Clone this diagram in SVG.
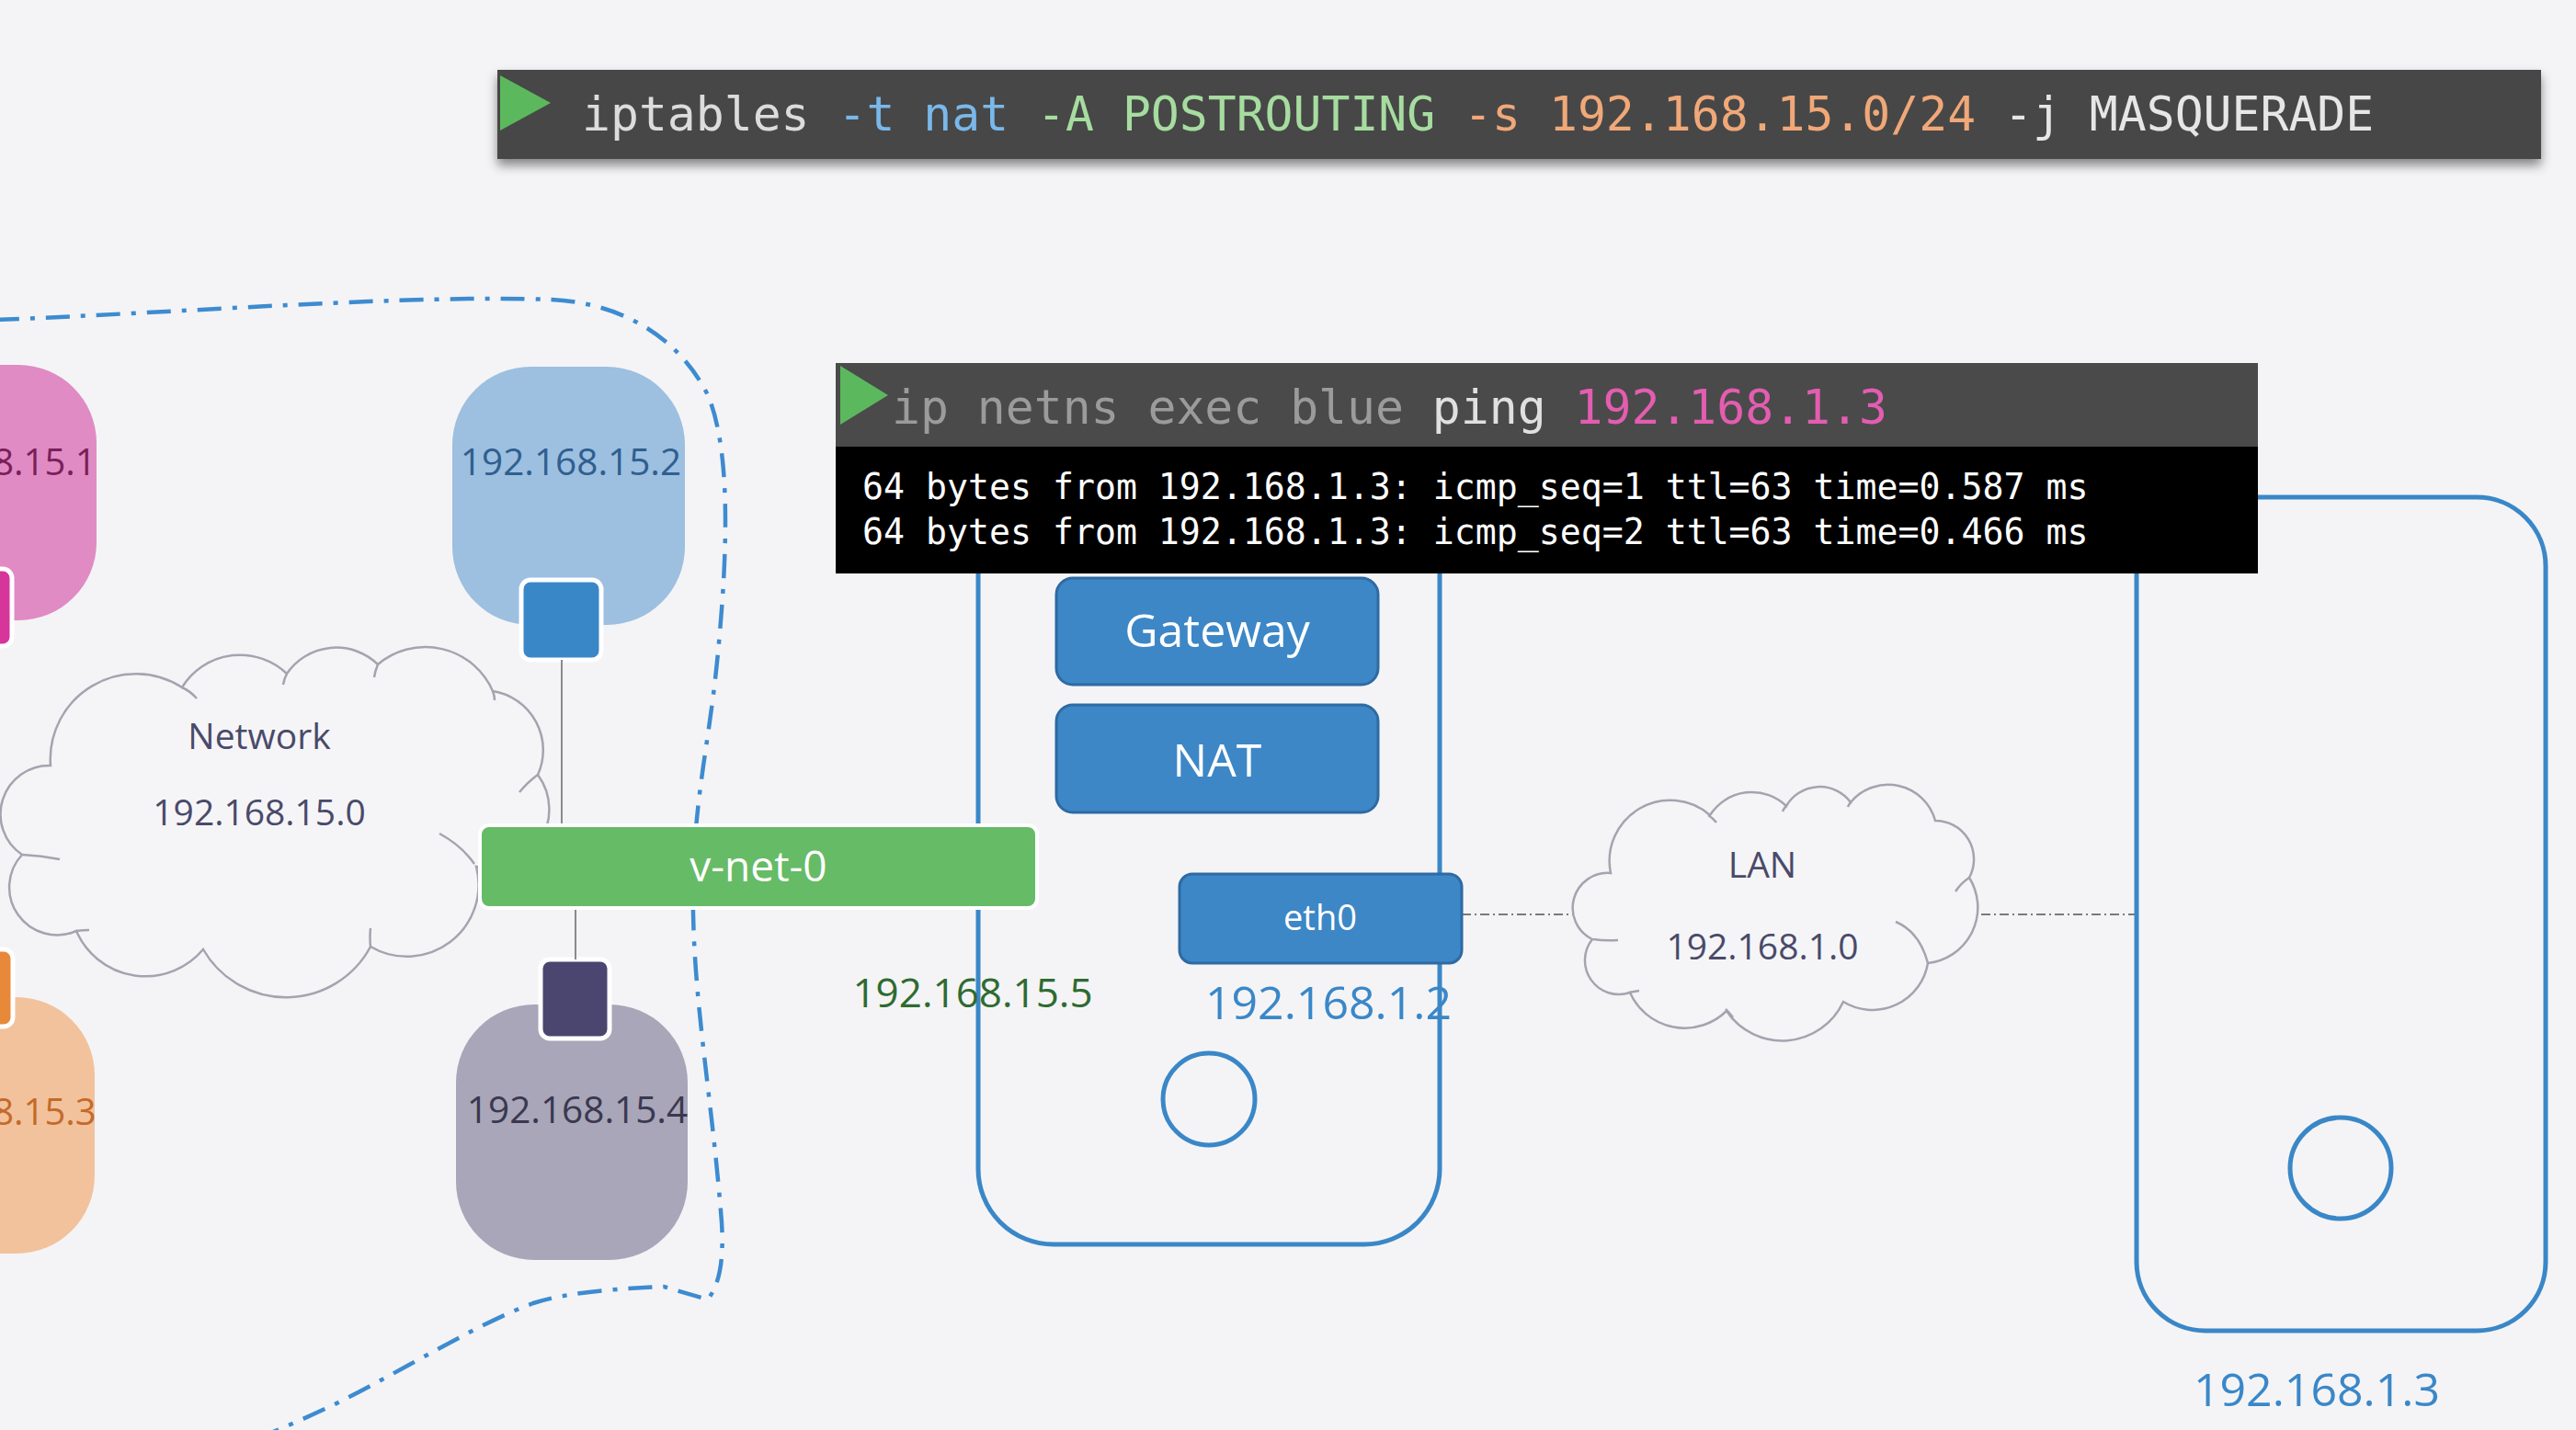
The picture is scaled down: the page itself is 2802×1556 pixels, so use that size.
<svg xmlns="http://www.w3.org/2000/svg" width="2802" height="1556" viewBox="0 0 2802 1556">
<defs>
<style>
.ui{font-family:"Open Sans","Noto Sans","DejaVu Sans",sans-serif}
.mono{font-family:"DejaVu Sans Mono","Liberation Mono",monospace}
.port{stroke:#ffffff;stroke-width:5}
.btn{fill:#3d87c6;stroke:#2e6aa3;stroke-width:3}
.host{fill:none;stroke:#3a87c8;stroke-width:5}
.cloud{fill:#f5f5f7;stroke:#a4a4b0;stroke-width:2.5}
.curl{fill:none;stroke:#a4a4b0;stroke-width:2.5}
.wire{stroke:#8a8a8a;stroke-width:2;fill:none}
.dd{stroke:#7a7a7a;stroke-width:1.8;fill:none;stroke-dasharray:10 4 2 4}
</style>
<filter id="sh" x="-5%" y="-30%" width="110%" height="180%">
<feDropShadow dx="0" dy="7" stdDeviation="6" flood-color="#000" flood-opacity="0.45"/>
</filter>
</defs>
<rect x="0" y="0" width="2802" height="1556" fill="#f4f4f6"/>

<g id="namespace-boundary">
<path d="M -5 348 C 200 340, 450 320, 600 326 C 680 330, 740 370, 770 430 C 795 490, 792 600, 780 720 C 770 820, 752 880, 754 994 C 756 1100, 775 1200, 785 1330 C 788 1380, 780 1400, 770 1414 L 722 1400 C 680 1402, 620 1405, 580 1418 C 520 1440, 440 1490, 370 1525 C 330 1545, 300 1556, 280 1566" fill="none" stroke="#3d8bd0" stroke-width="4.5" stroke-dasharray="26 12 5 12"/>
</g>

<g id="cloud-network">
<path class="cloud" d="M 55 833 A 93 93 0 0 1 198 748 A 74 74 0 0 1 312 733 A 65 65 0 0 1 411 723 A 80 80 0 0 1 536 752 A 65 65 0 0 1 585 843 A 64 64 0 0 1 518 943 A 78 78 0 0 1 403 1030 A 104 104 0 0 1 221 1033 A 82 82 0 0 1 83 1013 A 52 52 0 0 1 24 930 A 53 53 0 0 1 55 833 Z"/>
<path class="curl" d="M 198 748 Q 207 752 214 760 M 312 733 Q 309 739 308 745 M 411 723 Q 408 730 407 737 M 536 752 Q 538 757 538 762 M 585 843 Q 574 851 565 862 M 478 907 Q 502 920 516 940 M 403 1030 Q 402 1020 403 1010 M 83 1013 Q 90 1012 97 1012 M 24 930 Q 45 931 65 935"/>
<text class="ui" x="282" y="815" font-size="39" fill="#4a4a6a" text-anchor="middle">Network</text>
<text class="ui" x="282" y="898" font-size="39" fill="#4a4a6a" text-anchor="middle">192.168.15.0</text>
</g>

<g id="pod-15-1">
<rect x="-148" y="397" width="253" height="278" rx="85" fill="#e08bc3"/>
<text class="ui" x="-14" y="517" font-size="40" fill="#7a1f5a" text-anchor="middle">192.168.15.1</text>
<rect class="port" x="-70" y="619" width="83" height="84" rx="10" fill="#d6359a"/>
</g>

<g id="pod-15-2">
<rect x="492" y="399" width="253" height="281" rx="85" fill="#9dbfe0"/>
<text class="ui" x="621" y="517" font-size="40.5" fill="#2f5f8f" text-anchor="middle">192.168.15.2</text>
<rect class="port" x="567" y="631" width="87" height="87" rx="10" fill="#3a87c8"/>
</g>

<g id="pod-15-3">
<rect x="-150" y="1085" width="253" height="279" rx="85" fill="#f2c29c"/>
<text class="ui" x="-14" y="1224" font-size="40" fill="#c46a2a" text-anchor="middle">192.168.15.3</text>
<rect class="port" x="-70" y="1033" width="84" height="84" rx="10" fill="#e8893a"/>
</g>

<g id="pod-15-4">
<rect x="496" y="1093" width="252" height="278" rx="85" fill="#a8a6b8"/>
<text class="ui" x="628" y="1222" font-size="40.5" fill="#3a3850" text-anchor="middle">192.168.15.4</text>
<rect class="port" x="588" y="1044" width="75" height="86" rx="10" fill="#4a4670"/>
</g>

<g id="connectors">
<line class="wire" x1="611" y1="718" x2="611" y2="898"/>
<line class="wire" x1="626" y1="988" x2="626" y2="1044"/>
<line class="dd" x1="1590" y1="995" x2="1711" y2="995"/>
<line class="dd" x1="2155" y1="995" x2="2324" y2="995"/>
</g>

<g id="host-1">
<rect class="host" x="1064" y="470" width="502" height="884" rx="82"/>
<circle cx="1315" cy="1196" r="50" fill="none" stroke="#3a87c8" stroke-width="5"/>
</g>

<g id="v-net-0">
<rect x="522" y="898" width="606" height="90" rx="10" fill="#66bb66" stroke="#ffffff" stroke-width="4"/>
<text class="ui" x="825" y="959" font-size="46" fill="#ffffff" text-anchor="middle">v-net-0</text>
</g>
<text id="label-15-5" class="ui" x="1058" y="1096" font-size="44" fill="#2e6b30" text-anchor="middle">192.168.15.5</text>

<g id="gateway">
<rect class="btn" x="1149" y="629" width="350" height="116" rx="18"/>
<text class="ui" x="1324" y="704" font-size="50" fill="#ffffff" text-anchor="middle">Gateway</text>
</g>
<g id="nat">
<rect class="btn" x="1149" y="767" width="350" height="117" rx="18"/>
<text class="ui" x="1324" y="845" font-size="50" fill="#ffffff" text-anchor="middle">NAT</text>
</g>
<g id="eth0">
<rect class="btn" x="1283" y="951" width="307" height="97" rx="14"/>
<text class="ui" x="1436" y="1012" font-size="38" fill="#ffffff" text-anchor="middle">eth0</text>
<text class="ui" x="1445" y="1109" font-size="50" fill="#3a87c8" text-anchor="middle">192.168.1.2</text>
</g>

<g id="cloud-lan">
<path class="cloud" d="M 1752 950 A 66 66 0 0 1 1860 887 A 54 54 0 0 1 1943 877 A 42 42 0 0 1 2013 873 A 53 53 0 0 1 2105 893 A 42 42 0 0 1 2142 955 A 61 61 0 0 1 2097 1048 A 61 61 0 0 1 2005 1090 A 73 73 0 0 1 1878 1100 A 65 65 0 0 1 1773 1080 A 37 37 0 0 1 1732 1022 A 38 38 0 0 1 1752 950 Z"/>
<path class="curl" d="M 2062 1003 Q 2088 1014 2097 1048 M 1733 1022 Q 1746 1024 1760 1023 M 2142 955 Q 2133 961 2127 970 M 1772 1080 Q 1777 1079 1783 1078 M 1858 887 Q 1863 890 1867 895 M 1943 877 Q 1940 880 1939 883 M 2014 872 Q 2011 875 2010 878 M 1877 1098 Q 1881 1102 1885 1107"/>
<text class="ui" x="1917" y="955" font-size="39" fill="#4a4a6a" text-anchor="middle">LAN</text>
<text class="ui" x="1917" y="1044" font-size="39" fill="#4a4a6a" text-anchor="middle">192.168.1.0</text>
</g>

<g id="host-2">
<rect class="host" x="2324" y="541" width="445" height="907" rx="75"/>
<circle cx="2546" cy="1271" r="55" fill="none" stroke="#3a87c8" stroke-width="5"/>
<text class="ui" x="2520" y="1530" font-size="50" fill="#3a87c8" text-anchor="middle">192.168.1.3</text>
</g>

<g id="terminal-iptables">
<rect x="541" y="76" width="2223" height="97" fill="#474747" filter="url(#sh)"/>
<polygon points="544,82 599,112 544,142" fill="#5cb85c"/>
<text class="mono" x="633" y="142" font-size="51.4" xml:space="preserve"><tspan fill="#dcdcdc">iptables </tspan><tspan fill="#7ab8ea">-t nat </tspan><tspan fill="#a6dca0">-A POSTROUTING </tspan><tspan fill="#f0a878">-s 192.168.15.0/24 </tspan><tspan fill="#e6e6e6">-j MASQUERADE</tspan></text>
</g>

<g id="terminal-ping">
<rect x="909" y="395" width="1547" height="92" fill="#4a4a4a"/>
<rect x="909" y="486" width="1547" height="138" fill="#000000"/>
<polygon points="914,398 966,430 914,462" fill="#5cb85c"/>
<text class="mono" x="970" y="461" font-size="51.4" xml:space="preserve"><tspan fill="#9b9b9b">ip netns exec blue </tspan><tspan fill="#e0e0e0">ping </tspan><tspan fill="#e35db0">192.168.1.3</tspan></text>
<text class="mono" x="938" y="543" font-size="38.2" fill="#ffffff">64 bytes from 192.168.1.3: icmp_seq=1 ttl=63 time=0.587 ms</text>
<text class="mono" x="938" y="592" font-size="38.2" fill="#ffffff">64 bytes from 192.168.1.3: icmp_seq=2 ttl=63 time=0.466 ms</text>
</g>
</svg>
